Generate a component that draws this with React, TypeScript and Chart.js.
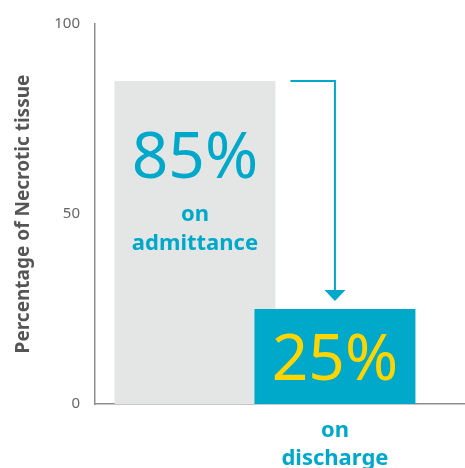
import React, { useEffect, useRef } from "react";
import { Chart, registerables } from "chart.js";

Chart.register(...registerables);

const categories = ["on admittance", "on discharge"];
const values = [85, 25];
const valueLabels = ["85%", "25%"];
const yTicks = [0, 50, 100];
const yTitle = "Percentage of Necrotic tissue";

const CYAN = "#00A8CA";
const GREY = "#E4E6E5";
const YELLOW = "#FFD500";
const FONT = "'Noto Sans', sans-serif";

const overlayPlugin = {
  id: "overlay",
  afterDatasetsDraw(chart: any) {
    const ctx = chart.ctx;
    const xs = chart.scales.x;
    const ys = chart.scales.y;
    const meta = chart.getDatasetMeta(0);
    const b0 = meta.data[0];
    const b1 = meta.data[1];
    ctx.save();
    // arrow
    const startX = b0.x + b0.width / 2 + 15;
    const topY = ys.getPixelForValue(values[0]);
    const endX = xs.getPixelForValue(1);
    const tipY = ys.getPixelForValue(values[1]) - 8;
    ctx.strokeStyle = CYAN;
    ctx.lineWidth = 2;
    ctx.beginPath();
    ctx.moveTo(startX, topY);
    ctx.lineTo(endX, topY);
    ctx.lineTo(endX, tipY - 10);
    ctx.stroke();
    ctx.fillStyle = CYAN;
    ctx.beginPath();
    ctx.moveTo(endX - 10.5, tipY - 11);
    ctx.lineTo(endX + 10.5, tipY - 11);
    ctx.lineTo(endX, tipY);
    ctx.closePath();
    ctx.fill();

    ctx.textAlign = "center";
    ctx.textBaseline = "middle";
    // first bar labels
    const c0 = b0.x;
    ctx.fillStyle = CYAN;
    ctx.font = `400 64px ${FONT}`;
    ctx.fillText(valueLabels[0], c0, topY + 79);
    const words0 = categories[0].split(" ");
    ctx.font = `700 22px ${FONT}`;
    ctx.fillText(words0[0], c0, topY + 134);
    ctx.fillText(words0[1], c0, topY + 163);
    // second bar labels
    const c1 = b1.x;
    const y1 = ys.getPixelForValue(values[1]);
    ctx.fillStyle = YELLOW;
    ctx.font = `400 64px ${FONT}`;
    ctx.fillText(valueLabels[1], c1, y1 + 53);
    const words1 = categories[1].split(" ");
    ctx.fillStyle = CYAN;
    ctx.font = `700 22px ${FONT}`;
    const base = ys.getPixelForValue(0);
    ctx.fillText(words1[0], c1, base + 27);
    ctx.fillText(words1[1], c1, base + 55);
    ctx.restore();
  },
};

export default function App() {
  const ref = useRef<HTMLCanvasElement>(null);
  useEffect(() => {
    if (!ref.current) return;
    const chart = new Chart(ref.current, {
      type: "bar",
      data: {
        datasets: [
          {
            data: values.map((v, i) => ({ x: i, y: v })) as any,
            backgroundColor: [GREY, CYAN],
            borderWidth: 0,
            categoryPercentage: 1,
            barPercentage: 1.15,
            grouped: false,
          } as any,
        ],
      },
      options: {
        animation: false,
        responsive: false,
        maintainAspectRatio: false,
        layout: { padding: { top: 15, right: 0, bottom: 0, left: 0 } },
        plugins: { legend: { display: false }, tooltip: { enabled: false } },
        scales: {
          x: {
            type: "linear",
            offset: false,
            min: -0.714,
            max: 1.929,
            afterBuildTicks: (s: any) => {
              s.ticks = values.map((_, i) => ({ value: i }));
            },
            grid: { display: false, drawTicks: false, offset: false },
            border: { display: true, color: "#8E8E8E", width: 1.5 },
            ticks: { display: false },
            afterFit: (s: any) => {
              s.height = 64;
            },
          },
          y: {
            min: 0,
            max: 100,
            afterBuildTicks: (s: any) => {
              s.ticks = yTicks.map((v) => ({ value: v }));
            },
            grid: { display: false, drawTicks: false },
            border: { display: true, color: "#8E8E8E", width: 1.5 },
            ticks: {
              color: "#666",
              padding: 15,
              font: { family: FONT, size: 15 },
            },
            title: {
              display: true,
              text: yTitle,
              color: "#555",
              font: { family: FONT, size: 19, weight: "bold" },
              padding: { top: 12, bottom: 0 },
            },
            afterFit: (s: any) => {
              s.width = 95;
            },
          },
        },
      } as any,
      plugins: [overlayPlugin],
    });
    return () => chart.destroy();
  }, []);
  return (
    <div style={{ position: "fixed", left: 0, top: 0, width: 465, height: 468, background: "#fff" }}>
      <canvas ref={ref} width={465} height={468} style={{ width: 465, height: 468 }} />
    </div>
  );
}
